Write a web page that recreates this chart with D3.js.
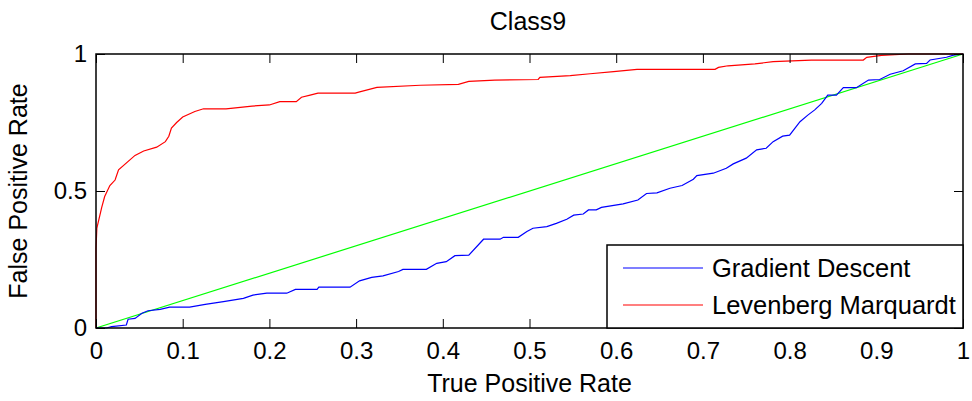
<!DOCTYPE html>
<html>
<head>
<meta charset="utf-8">
<script src="https://cdn.jsdelivr.net/npm/d3@7"></script>
<style>
  body { margin: 0; background: #fff; }
  text { font-family: "Liberation Sans", Arial, sans-serif; fill: #000; }
</style>
</head>
<body>
<div id="chart"></div>
<script>
// ROC points: [x, y]
const gradientDescent = [
  [0,0],[0.012,0],[0.018,0.005],[0.035,0.011],[0.037,0.032],[0.045,0.035],[0.053,0.054],
  [0.06,0.063],[0.074,0.068],[0.085,0.076],[0.108,0.076],[0.126,0.086],[0.147,0.096],
  [0.17,0.108],[0.181,0.12],[0.197,0.127],[0.22,0.127],[0.23,0.141],[0.255,0.141],
  [0.257,0.149],[0.293,0.149],[0.304,0.172],[0.318,0.185],[0.331,0.19],[0.349,0.206],
  [0.354,0.214],[0.381,0.214],[0.393,0.236],[0.404,0.242],[0.414,0.264],[0.43,0.266],
  [0.447,0.324],[0.466,0.324],[0.47,0.331],[0.487,0.331],[0.497,0.352],[0.504,0.364],
  [0.52,0.37],[0.531,0.382],[0.543,0.397],[0.551,0.412],[0.562,0.416],[0.568,0.431],
  [0.577,0.431],[0.583,0.44],[0.608,0.453],[0.625,0.467],[0.635,0.491],[0.647,0.493],
  [0.662,0.51],[0.676,0.52],[0.689,0.543],[0.693,0.556],[0.712,0.565],[0.727,0.583],
  [0.735,0.599],[0.75,0.62],[0.762,0.65],[0.773,0.656],[0.781,0.68],[0.792,0.70],
  [0.8,0.704],[0.812,0.753],[0.821,0.777],[0.829,0.796],[0.837,0.82],[0.844,0.85],
  [0.854,0.85],[0.862,0.877],[0.877,0.877],[0.891,0.905],[0.904,0.907],[0.916,0.926],
  [0.931,0.939],[0.945,0.964],[0.958,0.966],[0.962,0.978],[0.981,0.988],[0.989,0.996],[1,1]
];
const levenbergMarquardt = [
  [0,0],[0,0.29],[0.001,0.365],[0.0066,0.44],[0.010,0.48],[0.016,0.52],[0.022,0.54],
  [0.026,0.577],[0.045,0.63],[0.055,0.646],[0.07,0.66],[0.08,0.68],[0.084,0.70],
  [0.087,0.73],[0.093,0.75],[0.10,0.77],[0.114,0.79],[0.124,0.80],[0.15,0.80],
  [0.18,0.81],[0.20,0.814],[0.212,0.826],[0.231,0.826],[0.237,0.842],[0.247,0.85],
  [0.256,0.857],[0.299,0.857],[0.303,0.861],[0.324,0.878],[0.374,0.886],[0.418,0.889],
  [0.43,0.90],[0.46,0.905],[0.51,0.907],[0.512,0.915],[0.547,0.921],[0.57,0.928],
  [0.597,0.936],[0.624,0.944],[0.714,0.944],[0.718,0.951],[0.729,0.957],[0.76,0.964],
  [0.781,0.972],[0.825,0.978],[0.885,0.978],[0.889,0.988],[0.906,0.995],[0.937,1],[1,1]
];
const diagonal = [[0,0],[1,1]];
const xTicks = [0,0.1,0.2,0.3,0.4,0.5,0.6,0.7,0.8,0.9,1];
const yTicks = [0,0.5,1];
const legendNames = ['Gradient Descent', 'Levenberg Marquardt'];

const width = 972, height = 401;
const margin = {left: 96, top: 54, right: 9, bottom: 73};

const svg = d3.select('#chart').append('svg')
  .attr('width', width)
  .attr('height', height);

const x = d3.scaleLinear().domain([0, 1]).range([margin.left, width - margin.right]);
const y = d3.scaleLinear().domain([0, 1]).range([height - margin.bottom, margin.top]);

const line = d3.line().x(d => x(d[0])).y(d => y(d[1]));

// curves
svg.append('path').datum(diagonal)
  .attr('d', line).attr('fill', 'none').attr('stroke', '#00ff00').attr('stroke-width', 1.2);
svg.append('path').datum(gradientDescent)
  .attr('d', line).attr('fill', 'none').attr('stroke', '#0000ff').attr('stroke-width', 1.2);
svg.append('path').datum(levenbergMarquardt)
  .attr('d', line).attr('fill', 'none').attr('stroke', '#ff0000').attr('stroke-width', 1.2);

// axes, ticks inside on all sides
const tickLen = 9;
svg.append('g')
  .attr('transform', `translate(0,${y(0)})`)
  .call(d3.axisBottom(x).tickValues(xTicks).tickSizeInner(-tickLen).tickSizeOuter(0).tickPadding(14)
    .tickFormat(d3.format('~g')))
  .call(g => g.select('.domain').remove())
  .call(g => g.selectAll('text').attr('font-size', 24).attr('fill', '#000'));
svg.append('g')
  .attr('transform', `translate(0,${y(1)})`)
  .call(d3.axisTop(x).tickValues(xTicks).tickSizeInner(-tickLen).tickSizeOuter(0).tickFormat(''))
  .call(g => g.select('.domain').remove());
svg.append('g')
  .attr('transform', `translate(${x(0)},0)`)
  .call(d3.axisLeft(y).tickValues(yTicks).tickSizeInner(-tickLen).tickSizeOuter(0).tickPadding(9)
    .tickFormat(d3.format('~g')))
  .call(g => g.select('.domain').remove())
  .call(g => g.selectAll('text').attr('font-size', 24).attr('fill', '#000'));
svg.append('g')
  .attr('transform', `translate(${x(1)},0)`)
  .call(d3.axisRight(y).tickValues(yTicks).tickSizeInner(-tickLen).tickSizeOuter(0).tickFormat(''))
  .call(g => g.select('.domain').remove());
svg.selectAll('.tick line').attr('stroke', '#000');

svg.append('rect')
  .attr('x', x(0)).attr('y', y(1))
  .attr('width', x(1) - x(0)).attr('height', y(0) - y(1))
  .attr('fill', 'none').attr('stroke', '#000').attr('stroke-width', 1.5);

// titles
svg.append('text')
  .attr('x', 528).attr('y', 30)
  .attr('text-anchor', 'middle').attr('font-size', 25)
  .text('Class9');
svg.append('text')
  .attr('x', (x(0) + x(1)) / 2).attr('y', 392)
  .attr('text-anchor', 'middle').attr('font-size', 25)
  .text('True Positive Rate');
svg.append('text')
  .attr('transform', `translate(27,${y(0.5)}) rotate(-90)`)
  .attr('text-anchor', 'middle').attr('font-size', 25)
  .text('False Positive Rate');

// legend
const legend = svg.append('g');
legend.append('rect')
  .attr('x', 607).attr('y', 245)
  .attr('width', x(1) - 607).attr('height', y(0) - 245)
  .attr('fill', '#fff').attr('stroke', '#000').attr('stroke-width', 1.5);
const legendColors = ['#0000ff', '#ff0000'];
legendNames.forEach((name, i) => {
  const ly = 268 + i * 37;
  legend.append('line')
    .attr('x1', 623).attr('x2', 703).attr('y1', ly).attr('y2', ly)
    .attr('stroke', legendColors[i]).attr('stroke-width', 1.2);
  legend.append('text')
    .attr('x', 712).attr('y', ly + 9)
    .attr('font-size', 25.5)
    .text(name);
});
</script>
</body>
</html>
